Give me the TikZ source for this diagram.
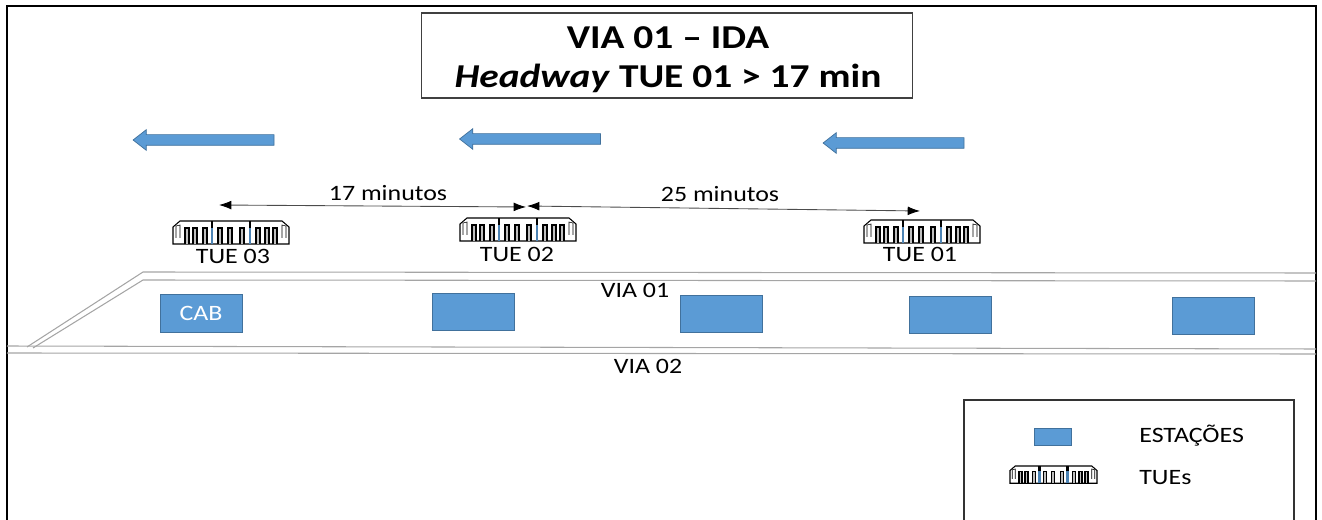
\documentclass[tikz,border=0pt]{standalone}
\usepackage{fontspec}
\setmainfont[FakeStretch=1.18]{Carlito}
\usepackage{xcolor}
\usetikzlibrary{shapes.arrows}
\usetikzlibrary{arrows.meta}
\tikzset{>={Latex}}
\definecolor{stblue}{RGB}{91,155,213}
\definecolor{stedge}{RGB}{65,113,156}
\definecolor{trackgray}{RGB}{165,165,165}

\begin{document}
\begin{tikzpicture}[x=0.02cm, y=-0.02cm, font=\fontsize{12.5}{14}\selectfont]

  \tikzset{est/.style={draw=stedge, fill=stblue, inner sep=0pt, text=white},
           sentido/.style={single arrow, draw=stedge, fill=stblue, inner xsep=0pt,
                           inner ysep=0.1cm, shape border rotate=180, minimum width=0.4cm,
                           minimum height=2.82cm, single arrow head extend=0.1cm,
                           single arrow tip angle=76},
           trilho/.style={draw=trackgray, line width=0.6pt},
           dist/.style={<->, draw=black!70, line width=0.5pt, >={Latex[length=7pt,width=5pt,black]}},
           pics/tue/.style={code={
             \draw[line width=0.6pt, fill=white] (0,23) -- (0,6) -- (7,0) -- (109,0)
                 -- (116,6) -- (116,23) -- cycle;
             \draw[line width=0.3pt] (3,17) -- (3,5) -- (7,4) -- (7,17);
             \draw[line width=0.3pt] (113,17) -- (113,5) -- (109,4) -- (109,17);
             \foreach \x in {12,20,30,45,55,67,83,92,100} {
               \draw[line width=0.6pt, fill=black!25] (\x,23) -- (\x,7) -- (\x+4,7) -- (\x+4,23);
             }
             \foreach \x in {39,77} {
               \draw[line width=1.5pt, stblue!85!black] (\x,23) -- (\x,7);
               \draw[line width=1.5pt, black] (\x,7) -- (\x,0);
             }
           }}}

  \useasboundingbox (0,0) rectangle (1322,520);

  % moldura
  \draw[line width=1.2pt] (7,520) -- (7,6) -- (1316,6) -- (1316,520);

  % titulo
  \node[draw=black!75, line width=0.8pt, minimum width=9.82cm, minimum height=1.7cm,
        inner sep=0pt] (titulo) at (667,55.5) {};
  \node[align=center, font=\fontsize{19}{19}\selectfont\bfseries, inner sep=0pt] (ttitulo)
        at (668,59.5) {VIA 01 -- IDA\\[3pt]\textit{Headway} TUE 01 > 17 min};

  % sentido de circulacao
  \node[sentido] (seta1) at (207,140) {};
  \node[sentido] (seta2) at (533.5,139) {};
  \node[sentido] (seta3) at (897,143) {};

  % trens
  \pic (tue3) at (173,221) {tue};
  \pic (tue2) at (460,218) {tue};
  \pic (tue1) at (864,220) {tue};
  \node (ltue3) at (233,256) {TUE 03};
  \node (ltue2) at (517,254) {TUE 02};
  \node (ltue1) at (920,254) {TUE 01};

  % distancias
  \coordinate (d3) at (219,205);
  \coordinate (d2e) at (526,207);
  \coordinate (d2d) at (527,206);
  \coordinate (d1) at (920,211);
  \draw[dist] (d3) -- (d2e);
  \draw[dist] (d2d) -- (d1);
  \node (l17) at (388,193) {17 minutos};
  \node (l25) at (720,194) {25 minutos};

  % vias
  \draw[trilho] (27,347) -- (143,272) -- (1316,273);
  \draw[trilho] (33,348) -- (143,280) -- (1316,281);
  \draw[trilho] (7,346) -- (1316,349);
  \draw[trilho] (7,353) -- (1316,354);
  \node (via1) at (635,290) {VIA 01};
  \node (via2) at (648,366) {VIA 02};

  % estacoes
  \foreach \xc/\yc/\t [count=\i from 1] in {201/313.5/CAB, 473/312/{}, 721.5/314/{},
      950.5/315/{}, 1213/316/{}} {
    \node[est, minimum width=1.64cm, minimum height=0.75cm] (est\i) at (\xc,\yc) {\t};
  }

  % legenda
  \draw[line width=0.6pt, draw=black!80] (964,520) -- (964,400) -- (1294,400) -- (1294,520);
  \node[est, minimum width=0.74cm, minimum height=0.34cm] (legest) at (1052.5,436.5) {};
  \pic[xscale=0.75, yscale=0.75] (legtue) at (1010,466) {tue};
  \node[anchor=west, inner sep=0pt] (lesta) at (1139,436) {ESTAÇÕES};
  \node[anchor=west, inner sep=0pt] (ltues) at (1139,478) {TUEs};

\end{tikzpicture}
\end{document}
